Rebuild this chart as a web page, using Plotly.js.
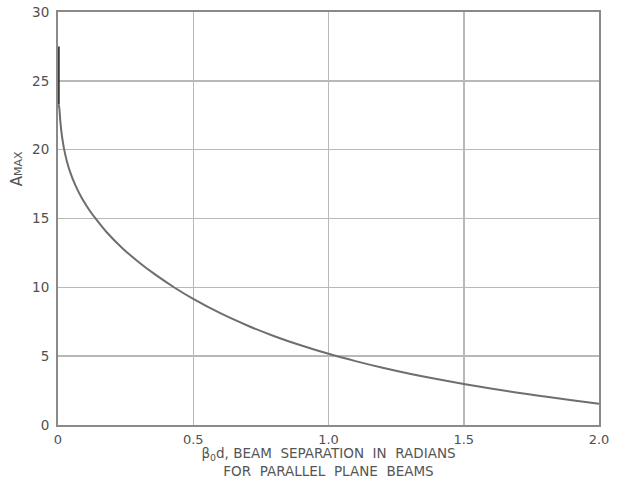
<!DOCTYPE html>
<html>
<head>
<meta charset="utf-8">
<script src="https://cdn.plot.ly/plotly-3.0.1.min.js"></script>
<style>html,body{margin:0;padding:0;background:#fff;}</style>
</head>
<body>
<div id="chart" style="width:619px;height:479px;"></div>
<script>
// Steep initial segment at x = 0
const spikeX = [0, 0];
const spikeY = [27.5, 23.3];

// A_max curve vs beam separation (radians)
const betaD = [0.002, 0.005, 0.008, 0.012, 0.017, 0.023, 0.032, 0.045, 0.064, 0.09, 0.12, 0.14, 0.18, 0.24, 0.3, 0.36, 0.43, 0.5, 0.6, 0.7, 0.8, 0.9, 1.0, 1.1, 1.2, 1.3, 1.4, 1.5, 1.6, 1.7, 1.8, 1.9, 2.0];
const aMax  = [23.3, 23.0, 22.2, 21.41, 20.68, 20.0, 19.22, 18.37, 17.42, 16.41, 15.49, 14.97, 14.0, 12.81, 11.81, 10.92, 9.99, 9.16, 8.12, 7.23, 6.45, 5.77, 5.17, 4.64, 4.16, 3.73, 3.34, 2.98, 2.65, 2.35, 2.07, 1.80, 1.55];

const xTickVals = [0, 0.5, 1.0, 1.5, 2.0];
const xTickText = ["0", "0.5", "1.0", "1.5", "2.0"];
const yTickVals = [0, 5, 10, 15, 20, 25, 30];
const yTickText = ["0", "5", "10", "15", "20", "25", "30"];

const font = {family: "DejaVu Sans, sans-serif", color: "#505050", size: 13};

const traces = [
  {x: spikeX, y: spikeY, mode: "lines", line: {color: "#3a3a3a", width: 3.5}, hoverinfo: "skip", showlegend: false},
  {x: betaD, y: aMax, mode: "lines", line: {color: "#6e6e6e", width: 2, shape: "spline", smoothing: 1}, showlegend: false}
];

const layout = {
  width: 619, height: 479,
  margin: {l: 58, r: 20, t: 12, b: 54},
  paper_bgcolor: "#fff", plot_bgcolor: "#fff",
  font: font,
  showlegend: false,
  xaxis: {
    range: [0, 2.0], tickvals: xTickVals, ticktext: xTickText,
    showgrid: true, gridcolor: "#b8b8b8", gridwidth: 1.5,
    showline: true, linecolor: "#8a8a8a", linewidth: 2, mirror: true,
    zeroline: false, ticks: "", ticklabelstandoff: 1,
    tickfont: {family: "DejaVu Sans, sans-serif", size: 13, color: "#505050"},
    title: {text: "β<sub>0</sub>d, BEAM  SEPARATION  IN  RADIANS<br>FOR  PARALLEL  PLANE  BEAMS", font: {family: "DejaVu Sans, sans-serif", size: 13.5, color: "#555"}, standoff: 3}
  },
  yaxis: {
    range: [0, 30], tickvals: yTickVals, ticktext: yTickText,
    showgrid: true, gridcolor: "#b8b8b8", gridwidth: 1.5,
    showline: true, linecolor: "#8a8a8a", linewidth: 2, mirror: true,
    zeroline: false, ticks: "", ticklabelstandoff: 4,
    tickfont: {family: "DejaVu Sans, sans-serif", size: 13.5, color: "#505050"}
  },
  annotations: [
    {text: "A<span style=\"font-size:11px\">MAX</span>", textangle: -90, xref: "paper", yref: "paper",
     x: -0.075, y: 0.62, xanchor: "center", yanchor: "middle", showarrow: false,
     font: {family: "DejaVu Sans, sans-serif", size: 15, color: "#555"}}
  ]
};

Plotly.newPlot("chart", traces, layout, {displayModeBar: false, staticPlot: true});
</script>
</body>
</html>
